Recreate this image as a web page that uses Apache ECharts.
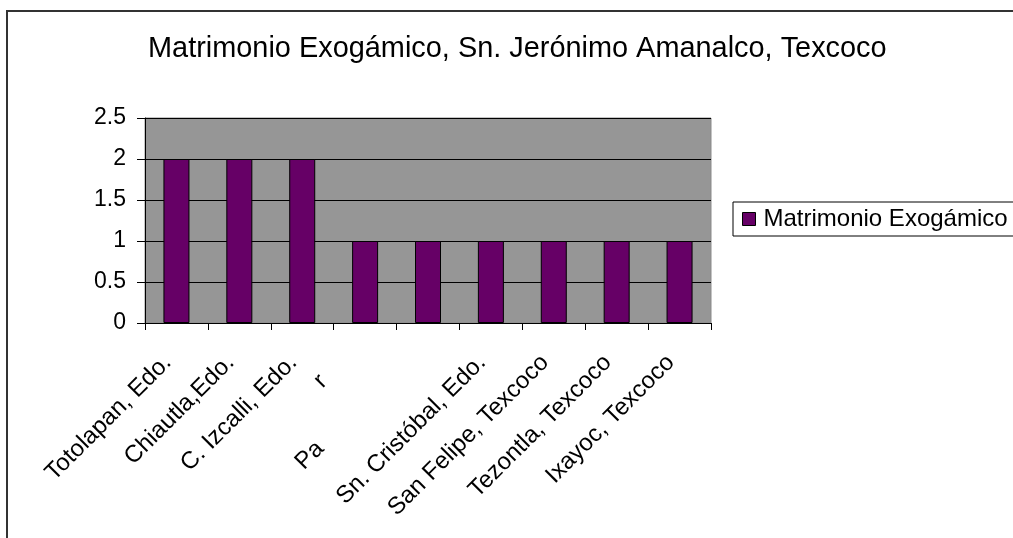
<!DOCTYPE html>
<html>
<head>
<meta charset="utf-8">
<script src="https://cdn.jsdelivr.net/npm/echarts@6/dist/echarts.min.js"></script>
<style>
html,body{margin:0;padding:0;background:#fff;}
#c{width:1013px;height:538px;}
</style>
</head>
<body>
<div id="c"></div>
<script>
const titleText = 'Matrimonio Exogámico, Sn. Jerónimo Amanalco, Texcoco';
const seriesName = 'Matrimonio Exogámico';
// 4th and 5th labels are mostly hidden in the reference: only "r" and "Pa" are visible
const categories = ['Totolapan, Edo.', 'Chiautla,Edo.', 'C. Izcalli, Edo.', 'r', 'Pa', 'Sn. Cristóbal, Edo.', 'San Felipe, Texcoco', 'Tezontla, Texcoco', 'Ixayoc, Texcoco'];
const values = [2, 2, 2, 1, 1, 1, 1, 1, 1];
const yTicks = [0, 0.5, 1, 1.5, 2, 2.5];
const FONT = '"Liberation Sans", Arial, sans-serif';

const chart = echarts.init(document.getElementById('c'));
chart.setOption({
  animation: false,
  backgroundColor: '#fff',
  title: {
    text: titleText,
    left: 143,
    top: 30,
    textStyle: {fontFamily: FONT, fontSize: 28.9, fontWeight: 'normal', color: '#000'}
  },
  legend: {
    left: 733,
    top: 202,
    orient: 'vertical',
    padding: [5, 30, 5, 9],
    borderColor: '#000',
    borderWidth: 1,
    itemWidth: 13,
    itemHeight: 13,
    itemGap: 0,
    icon: 'rect',
    textStyle: {fontFamily: FONT, fontSize: 24, color: '#000', padding: [0, 0, 0, 3]},
    data: [{name: seriesName, itemStyle: {color: '#660066', borderColor: '#000', borderWidth: 1}}]
  },
  grid: {
    left: 145, right: 302, top: 118, bottom: 215,
    show: true, backgroundColor: '#969696', borderColor: '#8a8a8a', borderWidth: 1
  },
  xAxis: {
    type: 'category',
    data: categories,
    boundaryGap: true,
    axisLine: {lineStyle: {color: '#000', width: 1}},
    axisTick: {show: true, inside: false, length: 7, alignWithLabel: false, interval: 0, lineStyle: {color: '#000'}},
    axisLabel: {
      interval: 0,
      rotate: 45,
      margin: 32,
      hideOverlap: false,
      fontFamily: FONT,
      fontSize: 24,
      color: '#000',
      padding: [0, 9, 7, 0],
      formatter: function (v, i) {
        if (i === 3) return '{r|' + v + '}';
        if (i === 4) return '{p|' + v + '}';
        return v;
      },
      rich: {
        r: {fontFamily: FONT, fontSize: 24, color: '#000', padding: [0, 37, 19, 0]},
        p: {fontFamily: FONT, fontSize: 24, color: '#000', padding: [0, 131, 18, 0]}
      }
    }
  },
  yAxis: {
    type: 'value',
    min: 0, max: 2.5, interval: 0.5,
    axisLine: {show: true, lineStyle: {color: '#000', width: 1}},
    axisTick: {show: true, inside: false, length: 8, lineStyle: {color: '#000'}},
    splitLine: {show: true, lineStyle: {color: '#000', width: 1}},
    axisLabel: {
      margin: 19, fontFamily: FONT, fontSize: 23, color: '#000',
      formatter: function (v) { return yTicks.indexOf(v) >= 0 ? String(v) : ''; }
    }
  },
  series: [{
    name: seriesName,
    type: 'bar',
    data: values,
    barWidth: 26,
    itemStyle: {color: '#660066', borderColor: '#000', borderWidth: 1}
  }],
  graphic: [{
    type: 'rect',
    silent: true,
    shape: {x: 7, y: 11, width: 1100, height: 600},
    style: {fill: 'none', stroke: '#333', lineWidth: 2},
    z: 100
  }]
});
</script>
</body>
</html>
